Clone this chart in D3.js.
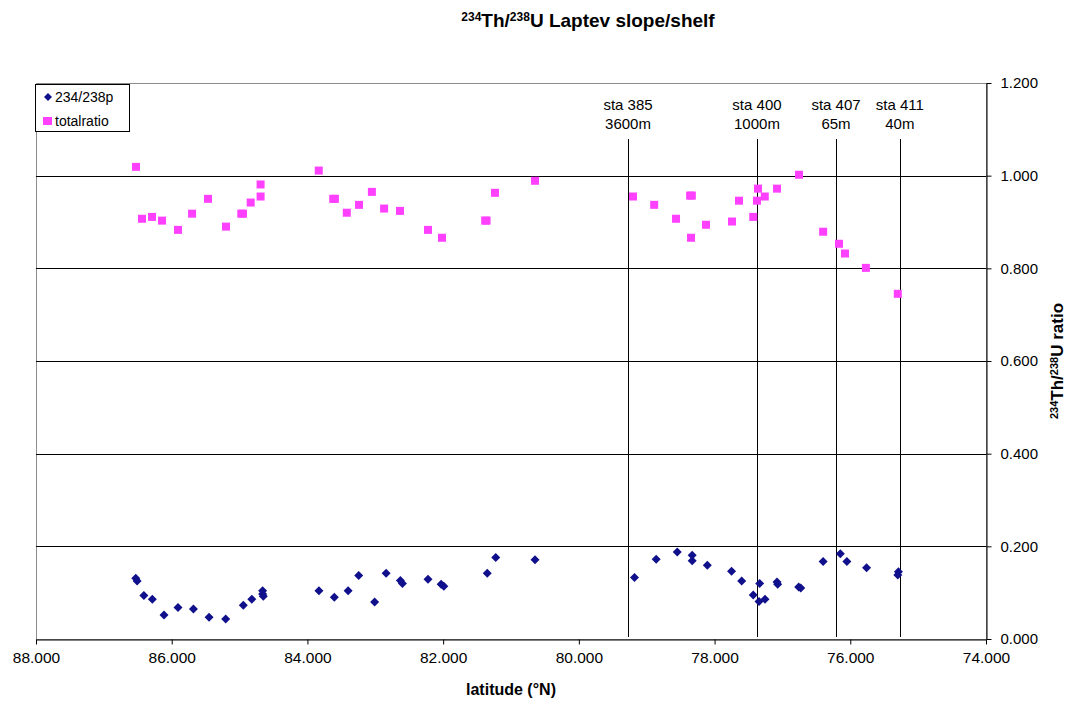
<!DOCTYPE html>
<html><head><meta charset="utf-8">
<script src="https://cdn.jsdelivr.net/npm/d3@7"></script>
<style>body{margin:0;background:#fff;} text{font-family:"Liberation Sans",Arial,sans-serif;}</style>
</head><body><svg id="c" width="1067" height="702"></svg>
<script>
const totalLat = [86.526,86.438,86.29,86.143,85.907,85.70,85.465,85.20,84.975,84.950,84.836,84.69,84.69,83.833,83.62,83.595,83.42,83.24,83.05,82.87,82.636,82.223,82.017,81.38,81.36,81.236,80.646,79.202,78.89,78.568,78.36,78.335,78.347,78.126,77.743,77.64,77.43,77.36,77.375,77.26,77.08,76.756,76.40,76.166,76.078,75.77,75.30];
const totalVal = [1.019,0.907,0.911,0.903,0.883,0.918,0.950,0.890,0.918,0.918,0.942,0.955,0.981,1.011,0.950,0.950,0.920,0.937,0.965,0.929,0.924,0.883,0.866,0.903,0.903,0.963,0.989,0.955,0.937,0.907,0.957,0.957,0.866,0.894,0.901,0.946,0.911,0.972,0.946,0.955,0.972,1.002,0.879,0.853,0.832,0.801,0.745];
const pLat = [86.53,86.51,86.41,86.286,86.114,85.907,85.68,85.45,85.205,84.945,84.82,84.66,84.66,84.65,83.83,83.604,83.40,83.245,83.01,82.84,82.63,82.60,82.223,82.03,81.99,81.35,81.225,80.646,79.18,78.86,78.55,78.33,78.33,78.107,77.75,77.60,77.43,77.335,77.345,77.257,77.08,77.07,76.76,76.73,76.40,76.147,76.05,75.76,75.29,75.30];
const pVal = [0.131,0.125,0.094,0.086,0.052,0.068,0.065,0.047,0.043,0.073,0.086,0.104,0.097,0.092,0.104,0.090,0.104,0.137,0.080,0.142,0.126,0.120,0.129,0.118,0.114,0.142,0.176,0.171,0.133,0.172,0.188,0.181,0.169,0.159,0.146,0.125,0.095,0.120,0.081,0.086,0.123,0.118,0.112,0.110,0.167,0.184,0.167,0.154,0.145,0.138];
const stationLat = [79.276,77.375,76.21,75.27];
const stationName = ["sta 385","sta 400","sta 407","sta 411"];
const stationDepth = ["3600m","1000m","65m","40m"];
const xTicks = [88,86,84,82,80,78,76,74];
const yTicks = [0,0.2,0.4,0.6,0.8,1.0,1.2];
const seriesNames = ["234/238p","totalratio"];

const svg = d3.select("#c");
const L=36,R=986,T=83,B=639;
const x = d3.scaleLinear().domain([88,74]).range([L,R]);
const y = d3.scaleLinear().domain([0,1.2]).range([B,T]);
const fmt = d3.format(".3f");

// plot border
svg.append("rect").attr("x",L+0.5).attr("y",T+0.5).attr("width",R-L).attr("height",B-T)
  .attr("fill","none").attr("stroke","#8c8c8c").attr("stroke-width",1);
// gridlines
svg.append("g").selectAll("line").data(yTicks.filter(d=>d>0)).join("line")
  .attr("x1",L).attr("x2",R).attr("y1",d=>Math.round(y(d))+0.5).attr("y2",d=>Math.round(y(d))+0.5)
  .attr("stroke",d=>d===1.2?"#8c8c8c":"#000").attr("stroke-width",1);

// station lines
svg.append("g").selectAll("line").data(stationLat).join("line")
  .attr("x1",d=>Math.round(x(d))+0.5).attr("x2",d=>Math.round(x(d))+0.5)
  .attr("y1",139).attr("y2",B-2).attr("stroke","#000").attr("stroke-width",1);
const sl = svg.append("g").selectAll("g").data(stationLat).join("g");
sl.append("text").attr("x",d=>x(d)).attr("y",110).attr("text-anchor","middle").attr("font-size",15)
  .text((d,i)=>stationName[i]);
sl.append("text").attr("x",d=>x(d)).attr("y",129).attr("text-anchor","middle").attr("font-size",15)
  .text((d,i)=>stationDepth[i]);

// axes
const xa = svg.append("g").attr("transform",`translate(0,${B+0.5})`)
  .call(d3.axisBottom(x).tickValues(xTicks).tickFormat(fmt).tickSize(5).tickSizeOuter(0));
xa.select(".domain").attr("stroke","#000");
xa.selectAll("text").attr("font-size",15.5).attr("y",9).attr("dy","0.95em").attr("fill","#000").style("font-family","'Liberation Sans',Arial,sans-serif");
const ya = svg.append("g").attr("transform",`translate(${R+0.5},0)`)
  .call(d3.axisRight(y).tickValues(yTicks).tickFormat(fmt).tickSize(5).tickSizeOuter(0));
ya.select(".domain").attr("stroke","#000");
ya.selectAll("text").attr("font-size",15).attr("x",14).attr("fill","#000").style("font-family","'Liberation Sans',Arial,sans-serif");

// points
const dPath = (cx,cy,r)=>`M${cx},${cy-r}L${cx+r},${cy}L${cx},${cy+r}L${cx-r},${cy}Z`;
svg.append("g").selectAll("rect").data(totalLat).join("rect")
  .attr("x",d=>x(d)-4).attr("y",(d,i)=>y(totalVal[i])-4).attr("width",8).attr("height",8)
  .attr("fill","#ff40ff");
svg.append("g").selectAll("path").data(pLat).join("path")
  .attr("d",(d,i)=>dPath(x(d),y(pVal[i]),4.5)).attr("fill","#10108c");

// legend
svg.append("rect").attr("x",35.5).attr("y",84.5).attr("width",94).attr("height",47)
  .attr("fill","#fff").attr("stroke","#000").attr("stroke-width",1);
svg.append("path").attr("d",dPath(48,97,4)).attr("fill","#10108c");
svg.append("text").attr("x",55).attr("y",102).attr("font-size",14).text(seriesNames[0]);
svg.append("rect").attr("x",43).attr("y",117).attr("width",9).attr("height",8).attr("fill","#ff40ff");
svg.append("text").attr("x",55).attr("y",126).attr("font-size",14).text(seriesNames[1]);

// title
const t = svg.append("text").attr("x",588).attr("y",27).attr("text-anchor","middle")
  .attr("font-size",19).attr("font-weight","bold");
t.append("tspan").attr("font-size",12).attr("dy",-6).text("234");
t.append("tspan").attr("dy",6).text("Th/");
t.append("tspan").attr("font-size",12).attr("dy",-6).text("238");
t.append("tspan").attr("dy",6).text("U Laptev slope/shelf");

// x title
svg.append("text").attr("x",511).attr("y",695).attr("text-anchor","middle").attr("font-size",16)
  .attr("font-weight","bold").text("latitude (°N)");
// y title
const yt = svg.append("text").attr("transform","translate(1063,361) rotate(-90)").attr("text-anchor","middle")
  .attr("font-size",17).attr("font-weight","bold");
yt.append("tspan").attr("font-size",11).attr("dy",-5).text("234");
yt.append("tspan").attr("dy",5).text("Th/");
yt.append("tspan").attr("font-size",11).attr("dy",-5).text("238");
yt.append("tspan").attr("dy",5).text("U ratio");
</script></body></html>
